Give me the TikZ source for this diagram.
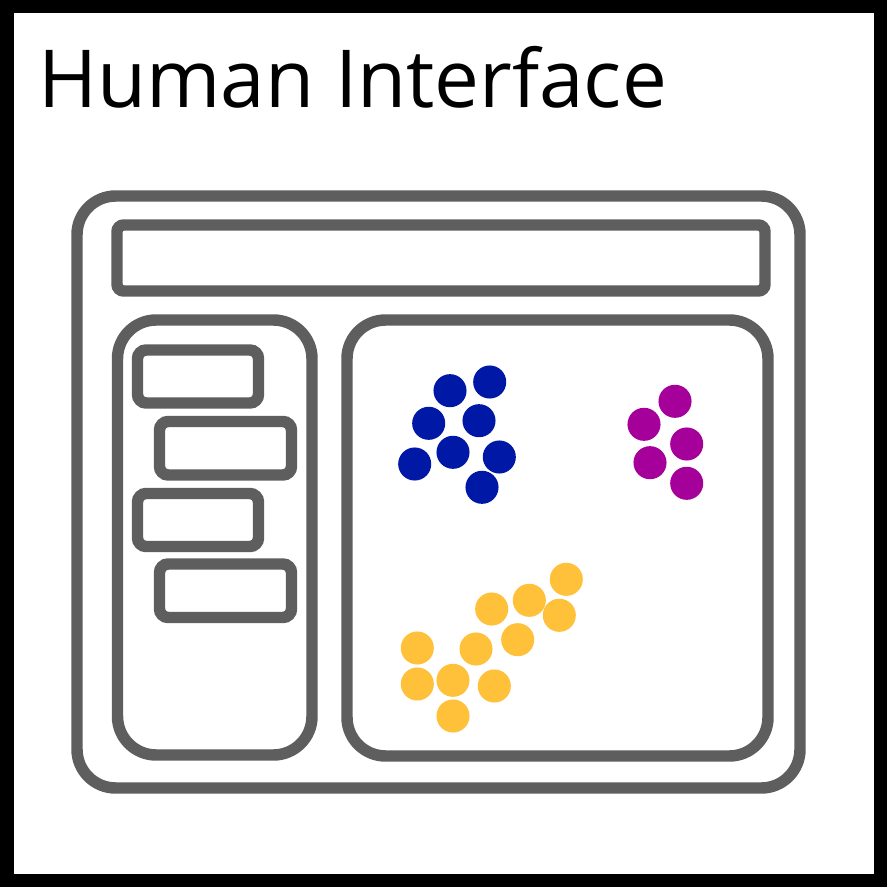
\documentclass[tikz,border=0pt]{standalone}
\usepackage{fontspec}
\setmainfont{Open Sans}
\definecolor{frame}{HTML}{5E5E5E}
\definecolor{dotblue}{HTML}{0018A6}
\definecolor{dotmagenta}{HTML}{A6009A}
\definecolor{dotyellow}{HTML}{FFC03A}
\tikzset{
  panel/.style={draw=frame, line width=8.6pt, rounded corners=29pt},
  bar/.style={draw=frame, line width=8.6pt, rounded corners=5pt},
  tab/.style={draw=frame, line width=8.6pt, rounded corners=6.5pt},
  dot/.style={fill=#1, draw=none},
}
\begin{document}
\begin{tikzpicture}[x=0.75pt, y=-0.75pt]
  % canvas and black border
  \useasboundingbox (0,0) rectangle (887,887);
  \fill[black] (0,0) rectangle (887,887);
  \fill[white] (13.5,13.5) rectangle (873.5,873.5);

  % title
  \node[anchor=base west, inner sep=0pt, font=\fontsize{60pt}{70pt}\selectfont] (title) at (38,107.5) {Human Interface};

  % window outline
  \draw[panel] (77,196) rectangle (800,788);
  % top bar
  \draw[bar] (117,225) rectangle (765,291);
  % left side panel
  \draw[panel] (117.5,320) rectangle (312,755);
  % main view
  \draw[panel] (347,320) rectangle (768,756);

  % menu tabs in the side panel
  \draw[tab] (137.5,350) rectangle (258.5,403);
  \draw[tab] (159.5,421.5) rectangle (291.5,475);
  \draw[tab] (137.5,493.5) rectangle (258.5,546.5);
  \draw[tab] (159.5,564) rectangle (291.5,617.5);

  % blue cluster
  \foreach \x/\y in {450/390.7, 489.7/382, 428.7/423.3, 479/420.7, 453/452.3, 414.7/464, 499.3/457, 482/487.3}
    \fill[dotblue] (\x,\y) circle[radius=12.4pt];

  % magenta cluster
  \foreach \x/\y in {675/401.3, 644/424.3, 686.7/444, 650/462.7, 686.7/483.3}
    \fill[dotmagenta] (\x,\y) circle[radius=12.4pt];

  % yellow cluster
  \foreach \x/\y in {566.3/579.3, 529.3/600.3, 491.7/609, 559.3/615.3, 517.7/639.7, 417.3/648, 476/649, 417.3/684, 453/680.3, 494.3/686, 453/716}
    \fill[dotyellow] (\x,\y) circle[radius=12.4pt];
\end{tikzpicture}
\end{document}
